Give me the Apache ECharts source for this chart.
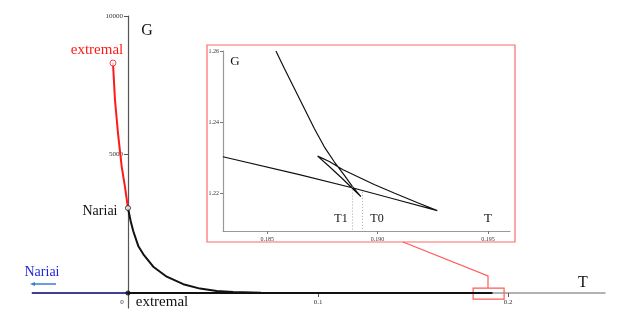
<!DOCTYPE html>
<html>
<head>
<meta charset="utf-8">
<script src="https://cdn.jsdelivr.net/npm/echarts@6/dist/echarts.min.js"></script>
<style>
  html, body { margin: 0; padding: 0; background: #fff; }
  #chart { width: 623px; height: 320px; }
</style>
</head>
<body>
<div id="chart"></div>
<script>
// main view: [T, G]
var extremalBranch = [[-0.00789, 8303], [-0.00684, 6968], [-0.00526, 5776], [-0.0033, 4560], [-0.0016, 3838], [0, 3069]]
var nariaiDecay = [[0, 3069], [0.0014, 2600], [0.0028, 2230], [0.0054, 1700], [0.0081, 1400], [0.0133, 950], [0.0204, 590],
  [0.0291, 320], [0.0379, 160], [0.0467, 75], [0.0553, 35], [0.07, 12], [0.09, 5], [0.12, 2.8], [0.15, 1.8]]
var backToExtremal = [[0.15, 1.0], [0.1, 0.7], [0.05, 0.35], [0, 0]]
var nariaiNegative = [[-0.0505, 0], [0, 0]]
var extremalPoint = [[-0.00789, 8303]]
var nariaiPoint = [[0, 3069]]
var originPoint = [[0, 0]]
var mainXTicks = [0.1, 0.2]
var mainYTicks = [5000, 10000]
var zoomBox = [0.1816, 0.1979, -217, 180]

// zoomed swallowtail
var branchA = [[0.185397, 1.26], [0.185781, 1.25506], [0.186233, 1.24945], [0.186685, 1.24384], [0.187136, 1.23823],
  [0.187588, 1.23307], [0.18804, 1.22886], [0.188491, 1.22513], [0.188866, 1.22185], [0.189246, 1.21905]]
var branchB = [[0.188866, 1.22135], [0.188401, 1.22415], [0.187814, 1.22752], [0.187286, 1.23046]]
var branchC = [[0.187814, 1.22892], [0.188415, 1.22668], [0.189847, 1.22247], [0.19075, 1.22008], [0.191789, 1.21742], [0.192706, 1.21512]]
var branchD = [[0.19075, 1.2184], [0.188898, 1.22149], [0.186459, 1.22527], [0.182995, 1.23027]]
var insetXTicks = [0.185, 0.19, 0.195]
var insetYTicks = [1.22, 1.24, 1.26]
var T1 = [0.188866, 1.2219]
var T0 = [0.189318, 1.2204]

var swallowtail = branchA.concat(branchB, branchC, branchD)
var mainBlack = nariaiDecay.concat(swallowtail, backToExtremal)

var serif = 'Liberation Serif'
var chart = echarts.init(document.getElementById('chart'))

function txt(x, y, s, size, color, align) {
  return {
    type: 'text', x: x, y: y, silent: true, z: 50,
    style: { text: s, font: size + 'px "' + serif + '"', fill: color || '#111', align: align || 'center', verticalAlign: 'middle' }
  }
}

var tickLabel = { fontFamily: serif, fontSize: 7, color: '#333' }

var option = {
  animation: false,
  grid: [
    { left: 32, top: 16, width: 573, height: 292 },
    { left: 223, top: 51, width: 287, height: 180 }
  ],
  xAxis: [
    {
      // axis sits on G = 0, moved up from the grid bottom
      type: 'value', gridIndex: 0, min: -0.0505, max: 0.251, offset: -15,
      axisLine: { onZero: false, lineStyle: { color: '#999', width: 1.5 } },
      axisTick: { show: true, length: 4, lineStyle: { color: '#555' }, customValues: mainXTicks },
      axisLabel: Object.assign({ customValues: mainXTicks, margin: 6, formatter: function (v) { return String(v) } }, tickLabel),
      splitLine: { show: false }
    },
    {
      type: 'value', gridIndex: 1, min: 0.183, max: 0.196,
      axisLine: { onZero: false, lineStyle: { color: '#999', width: 1.2 } },
      axisTick: { show: true, length: 3, lineStyle: { color: '#777' }, customValues: insetXTicks },
      axisLabel: Object.assign({ customValues: insetXTicks, margin: 5, formatter: function (v) { return v.toFixed(3) } }, tickLabel, { fontSize: 6 }),
      splitLine: { show: false }
    }
  ],
  yAxis: [
    {
      // axis sits on T = 0
      type: 'value', gridIndex: 0, min: -540, max: 10000, offset: -96,
      axisLine: { onZero: false, lineStyle: { color: '#555', width: 1.2 } },
      axisTick: { show: true, length: 4, lineStyle: { color: '#555' }, customValues: mainYTicks },
      axisLabel: Object.assign({ customValues: mainYTicks, margin: 5, formatter: function (v) { return String(v) } }, tickLabel),
      splitLine: { show: false }
    },
    {
      type: 'value', gridIndex: 1, min: 1.2094, max: 1.26,
      axisLine: { onZero: false, lineStyle: { color: '#999', width: 1.2 } },
      axisTick: { show: true, length: 3, lineStyle: { color: '#777' }, customValues: insetYTicks },
      axisLabel: Object.assign({ customValues: insetYTicks, margin: 4, formatter: function (v) { return v.toFixed(2) } }, tickLabel, { fontSize: 6 }),
      splitLine: { show: false }
    }
  ],
  series: [
    {
      type: 'line', xAxisIndex: 0, yAxisIndex: 0, data: nariaiNegative, showSymbol: false,
      lineStyle: { color: '#1a1a8c', width: 1.5 }, z: 3
    },
    {
      type: 'line', xAxisIndex: 0, yAxisIndex: 0, data: mainBlack, showSymbol: false,
      lineStyle: { color: '#111', width: 2 }, z: 4,
      markArea: {
        silent: true,
        itemStyle: { color: 'rgba(0,0,0,0)', borderColor: '#ff5a5a', borderWidth: 1.2 },
        data: [[{ xAxis: zoomBox[0], yAxis: zoomBox[3] }, { xAxis: zoomBox[1], yAxis: zoomBox[2] }]]
      }
    },
    {
      type: 'line', xAxisIndex: 0, yAxisIndex: 0, data: extremalBranch, showSymbol: false,
      lineStyle: { color: '#ff1a1a', width: 2 }, z: 5
    },
    {
      type: 'scatter', xAxisIndex: 0, yAxisIndex: 0, data: extremalPoint, symbol: 'circle', symbolSize: 6,
      itemStyle: { color: '#fff', borderColor: '#ff1a1a', borderWidth: 1 }, z: 6
    },
    {
      type: 'scatter', xAxisIndex: 0, yAxisIndex: 0, data: nariaiPoint, symbol: 'circle', symbolSize: 5,
      itemStyle: { color: '#fff', borderColor: '#111', borderWidth: 1 }, z: 6
    },
    {
      type: 'scatter', xAxisIndex: 0, yAxisIndex: 0, data: originPoint, symbol: 'circle', symbolSize: 5,
      itemStyle: { color: '#111' }, z: 6
    },
    {
      type: 'line', xAxisIndex: 1, yAxisIndex: 1, data: swallowtail, showSymbol: false,
      lineStyle: { color: '#111', width: 1.2 }, z: 4,
      markLine: {
        silent: true, symbol: 'none', label: { show: false },
        lineStyle: { color: '#aaa', type: [1, 2], width: 1 },
        data: [
          [{ coord: T1 }, { coord: [T1[0], 1.2094] }],
          [{ coord: T0 }, { coord: [T0[0], 1.2094] }]
        ]
      }
    }
  ],
  graphic: [
    { type: 'rect', shape: { x: 207, y: 45, width: 308, height: 197 }, style: { fill: 'none', stroke: '#ff6a6a', lineWidth: 1.2 }, silent: true, z: 40 },
    { type: 'polyline', shape: { points: [[488, 288], [488, 276], [403, 242]] }, style: { fill: 'none', stroke: '#ff5a5a', lineWidth: 1.2 }, silent: true, z: 40 },
    { type: 'line', shape: { x1: 33, y1: 284, x2: 56, y2: 284 }, style: { stroke: '#3a7fd0', lineWidth: 1.5 }, silent: true, z: 40 },
    { type: 'polygon', shape: { points: [[30, 284], [35, 282], [35, 286]] }, style: { fill: '#3a7fd0' }, silent: true, z: 40 },
    txt(97, 50, 'extremal', 15, '#ff1a1a'),
    txt(147, 31, 'G', 16),
    txt(100, 211, 'Nariai', 14),
    txt(42, 272, 'Nariai', 14, '#1f1fe0'),
    txt(122, 302, '0', 7, '#333'),
    txt(162, 302, 'extremal', 15),
    txt(583, 283, 'T', 16),
    txt(235, 62, 'G', 13),
    txt(341, 219, 'T1', 12),
    txt(377, 219, 'T0', 12),
    txt(488, 219, 'T', 13)
  ]
}
chart.setOption(option)
</script>
</body>
</html>
